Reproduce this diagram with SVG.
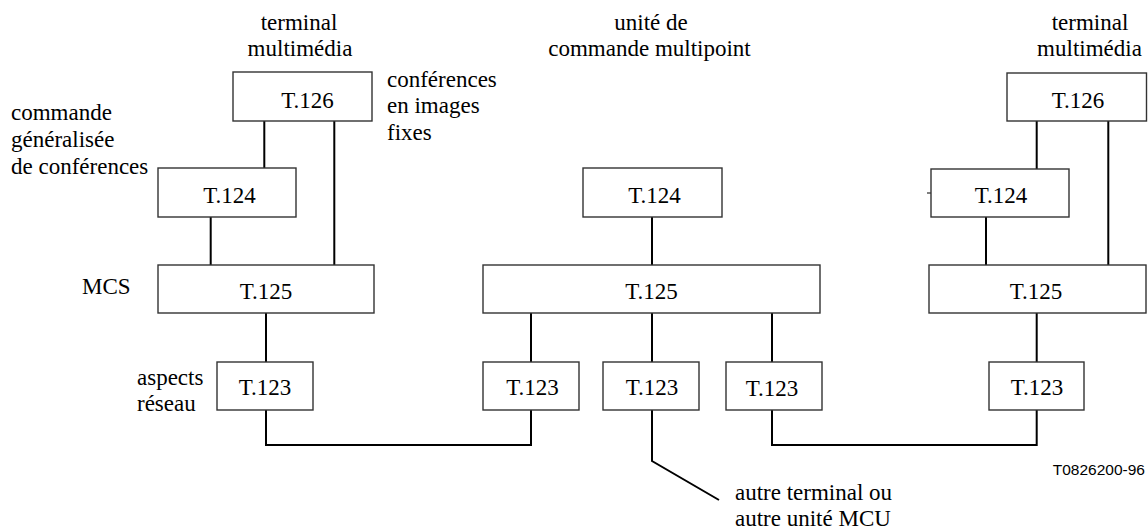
<svg xmlns="http://www.w3.org/2000/svg" width="1148" height="529" viewBox="0 0 1148 529">
<style>
.box{fill:#fff;stroke:#333;stroke-width:1.4}
.c{fill:none;stroke:#000;stroke-width:2}
.bl{text-anchor:middle}
</style>
<rect width="1148" height="529" fill="#fff"/>
<g id="connectors">
<path class="c" d="M264.3,121V168M334.3,121V265M210.7,217V265M266,313V362"/>
<path class="c" d="M266,410V445H531V410"/>
<path class="c" d="M652,217V265M531,313V362M652,313V362M772,313V362"/>
<path class="c" d="M652,410V461L719,500"/>
<path class="c" d="M772,410V445H1036.7V410"/>
<path class="c" d="M1036.7,121V169M1108.3,121V265M986,217V265M1036.7,313V362"/>
<path d="M927,193H931" stroke="#000" stroke-width="1"/>
</g>
<g font-family="Liberation Serif, Times New Roman, DejaVu Serif, serif" font-size="23" fill="#000">
<g id="labels">
<text class="bl" x="299" y="30">terminal</text>
<text class="bl" x="300" y="56">multimédia</text>
<text class="bl" x="651" y="30">unité de</text>
<text class="bl" x="649.5" y="56">commande multipoint</text>
<text class="bl" x="1090" y="30">terminal</text>
<text class="bl" x="1089.5" y="56">multimédia</text>
<text x="11" y="120">commande</text>
<text x="11" y="147">généralisée</text>
<text x="11" y="174">de conférences</text>
<text x="387" y="87">conférences</text>
<text x="387" y="113">en images</text>
<text x="387" y="140">fixes</text>
<text x="82" y="294">MCS</text>
<text x="137" y="385">aspects</text>
<text x="137" y="411">réseau</text>
<text x="735" y="500">autre terminal ou</text>
<text x="735" y="526">autre unité MCU</text>
<text x="1145" y="475" text-anchor="end" font-family="Liberation Sans, Arial, sans-serif" font-size="15.5">T0826200-96</text>
</g>
<g id="n_t126_l"><rect class="box" x="233" y="72" width="139" height="49"/><text class="bl" x="307.5" y="108">T.126</text></g>
<g id="n_t124_l"><rect class="box" x="158" y="168" width="138" height="49"/><text class="bl" x="229.5" y="203">T.124</text></g>
<g id="n_t125_l"><rect class="box" x="158" y="265" width="216" height="48"/><text class="bl" x="266" y="299">T.125</text></g>
<g id="n_t123_l"><rect class="box" x="217" y="362" width="96" height="48"/><text class="bl" x="265" y="395">T.123</text></g>
<g id="n_t124_m"><rect class="box" x="583" y="168" width="139" height="49"/><text class="bl" x="654.5" y="203">T.124</text></g>
<g id="n_t125_m"><rect class="box" x="483" y="265" width="337" height="48"/><text class="bl" x="651.5" y="299">T.125</text></g>
<g id="n_t123_m1"><rect class="box" x="483" y="362" width="96" height="48"/><text class="bl" x="532.5" y="395">T.123</text></g>
<g id="n_t123_m2"><rect class="box" x="603" y="362" width="96" height="48"/><text class="bl" x="652" y="395">T.123</text></g>
<g id="n_t123_m3"><rect class="box" x="726" y="362" width="96" height="48"/><text class="bl" x="772" y="396">T.123</text></g>
<g id="n_t126_r"><rect class="box" x="1007" y="73" width="139.5" height="48"/><text class="bl" x="1078" y="108">T.126</text></g>
<g id="n_t124_r"><rect class="box" x="931" y="169" width="138" height="48"/><text class="bl" x="1001" y="203">T.124</text></g>
<g id="n_t125_r"><rect class="box" x="929" y="265" width="217" height="48"/><text class="bl" x="1036" y="299">T.125</text></g>
<g id="n_t123_r"><rect class="box" x="989" y="362" width="95" height="48"/><text class="bl" x="1037" y="395">T.123</text></g>
</g>
</svg>
